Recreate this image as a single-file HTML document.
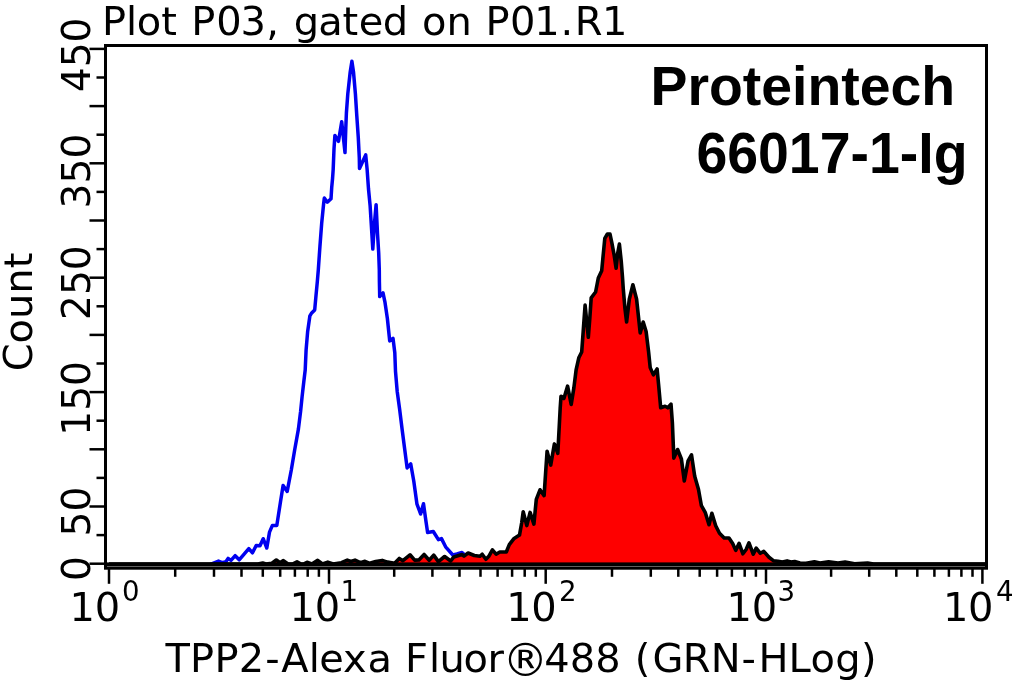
<!DOCTYPE html>
<html lang="en"><head><meta charset="utf-8"><title>Plot P03, gated on P01.R1</title>
<style>html,body{margin:0;padding:0;background:#fff;overflow:hidden}svg{display:block}.v{font-family:"DejaVu Sans","Liberation Sans",sans-serif;fill:#000}.a{font-family:"Liberation Sans",sans-serif;font-weight:bold;fill:#000}</style></head><body>
<svg width="1015" height="683" viewBox="0 0 1015 683">
<rect x="0" y="0" width="1015" height="683" fill="#fff"/>
<polyline points="211.0,564.2 214.8,562.6 218.5,561.1 222.2,562.6 225.9,561.8 228.1,558.4 231.0,560.4 235.2,555.7 239.2,559.8 248.8,548.6 252.5,552.8 256.2,545.5 260.0,545.8 263.2,538.7 266.8,548.0 269.5,532.1 272.4,525.4 276.8,525.4 280.5,501.8 283.1,485.5 287.2,491.4 291.3,470.0 294.7,449.8 298.4,429.1 300.6,411.4 302.1,396.6 303.8,381.8 305.2,370.0 306.1,349.8 307.6,332.1 309.9,315.8 311.7,312.9 314.7,309.9 315.9,296.6 317.3,281.8 318.3,270.0 319.9,246.8 321.7,223.2 323.6,204.0 324.3,198.1 327.3,202.2 331.0,198.8 331.7,187.7 332.6,178.0 333.2,169.1 334.0,149.0 334.9,135.4 338.5,141.3 341.7,121.8 345.0,152.6 345.8,128.0 346.4,113.0 347.8,93.9 350.2,72.0 351.9,61.2 353.5,72.0 355.4,93.9 356.8,115.8 358.3,137.8 359.3,158.0 359.5,168.5 365.7,154.9 367.1,169.1 368.5,189.0 370.1,205.5 371.3,224.7 372.8,249.1 374.6,221.7 376.1,204.7 377.5,233.5 378.7,252.8 379.3,270.0 379.4,281.8 379.7,296.6 383.0,292.9 384.9,301.8 387.4,318.8 389.7,340.9 393.0,338.3 394.8,352.8 395.5,371.3 397.2,391.4 399.6,409.1 402.2,430.0 404.6,448.4 407.1,467.9 410.7,463.8 413.8,481.2 416.9,503.8 420.6,514.0 423.5,503.8 426.1,522.2 427.6,532.5 433.3,531.5 438.4,539.7 441.5,538.6 445.6,546.8 452.8,555.0 456.9,554.0 462.0,552.5 466.0,556.0 470.0,562.0 475.0,564.0" fill="none" stroke="#0000f0" stroke-width="3.5" stroke-linejoin="round" stroke-linecap="round"/>
<polygon points="109.0,564.0 258.0,564.0 262.7,563.0 266.0,564.0 272.0,563.3 276.3,560.0 280.0,562.8 283.4,560.6 288.0,564.0 293.0,563.8 297.0,561.8 301.0,564.0 304.0,563.8 307.0,562.3 311.8,564.0 317.7,560.4 322.5,564.0 327.8,562.1 333.1,564.0 341.4,562.7 347.3,560.1 350.8,561.5 355.0,560.1 360.3,562.7 365.0,561.3 369.8,563.3 375.7,561.5 382.2,560.4 387.5,562.1 394.6,563.3 399.3,558.4 402.9,560.7 410.0,554.8 414.7,560.1 418.9,560.0 424.1,554.5 429.2,560.2 433.7,555.1 438.4,561.6 444.6,556.5 450.7,561.0 453.8,556.9 462.0,554.5 464.0,556.1 468.1,553.0 474.3,555.5 480.0,556.3 482.2,554.2 485.9,559.3 488.8,556.3 492.4,549.8 496.1,554.2 499.8,552.0 506.3,552.0 509.3,544.6 513.7,538.8 519.5,535.1 521.7,522.7 523.2,511.7 526.8,525.6 530.1,512.4 533.9,524.1 536.3,499.3 540.0,489.8 544.1,495.6 545.8,470.0 547.1,451.2 550.7,465.1 554.4,443.9 557.8,453.4 559.2,427.1 560.2,408.0 561.0,396.3 563.9,398.5 567.6,386.1 571.2,404.4 573.9,387.6 576.1,370.0 578.8,357.8 581.7,352.0 583.2,331.5 585.1,305.1 588.3,337.3 589.8,318.3 591.2,297.8 595.6,292.0 598.3,278.0 601.7,270.8 603.3,253.8 604.8,238.4 607.4,234.0 610.0,234.0 612.0,243.6 614.1,254.8 616.1,268.2 617.6,253.8 619.4,244.1 621.2,261.0 622.5,277.4 623.2,288.0 624.9,308.0 626.6,322.0 629.3,299.3 632.9,284.8 636.6,299.3 640.2,332.9 643.2,322.0 646.1,331.5 648.6,352.0 650.2,367.6 653.4,374.9 657.1,369.0 658.5,383.7 660.7,407.8 665.1,406.3 667.8,407.8 671.0,404.1 672.4,423.2 673.3,445.0 673.8,458.1 677.6,449.5 681.4,459.0 684.3,480.9 688.1,460.9 691.5,454.8 694.7,476.2 698.5,489.5 701.4,505.7 705.2,512.3 709.0,524.7 711.9,513.3 715.7,525.7 719.5,533.3 724.2,538.0 729.0,538.0 732.8,543.8 735.7,550.4 739.1,543.4 742.9,553.8 746.1,549.5 749.0,542.8 753.2,554.2 756.2,548.1 760.4,553.3 763.8,551.4 769.0,557.3 773.7,560.9 778.0,561.2 782.3,562.0 787.1,560.9 791.0,562.0 794.7,561.6 800.0,563.0 806.0,563.2 814.4,561.8 820.0,563.0 828.6,561.8 838.0,563.0 845.1,562.0 854.6,563.7 867.6,563.0 873.5,564.0 985.0,564.0" fill="#fe0000" stroke="none"/>
<polyline points="109.0,564.0 258.0,564.0 262.7,563.0 266.0,564.0 272.0,563.3 276.3,560.0 280.0,562.8 283.4,560.6 288.0,564.0 293.0,563.8 297.0,561.8 301.0,564.0 304.0,563.8 307.0,562.3 311.8,564.0 317.7,560.4 322.5,564.0 327.8,562.1 333.1,564.0 341.4,562.7 347.3,560.1 350.8,561.5 355.0,560.1 360.3,562.7 365.0,561.3 369.8,563.3 375.7,561.5 382.2,560.4 387.5,562.1 394.6,563.3 399.3,558.4 402.9,560.7 410.0,554.8 414.7,560.1 418.9,560.0 424.1,554.5 429.2,560.2 433.7,555.1 438.4,561.6 444.6,556.5 450.7,561.0 453.8,556.9 462.0,554.5 464.0,556.1 468.1,553.0 474.3,555.5 480.0,556.3 482.2,554.2 485.9,559.3 488.8,556.3 492.4,549.8 496.1,554.2 499.8,552.0 506.3,552.0 509.3,544.6 513.7,538.8 519.5,535.1 521.7,522.7 523.2,511.7 526.8,525.6 530.1,512.4 533.9,524.1 536.3,499.3 540.0,489.8 544.1,495.6 545.8,470.0 547.1,451.2 550.7,465.1 554.4,443.9 557.8,453.4 559.2,427.1 560.2,408.0 561.0,396.3 563.9,398.5 567.6,386.1 571.2,404.4 573.9,387.6 576.1,370.0 578.8,357.8 581.7,352.0 583.2,331.5 585.1,305.1 588.3,337.3 589.8,318.3 591.2,297.8 595.6,292.0 598.3,278.0 601.7,270.8 603.3,253.8 604.8,238.4 607.4,234.0 610.0,234.0 612.0,243.6 614.1,254.8 616.1,268.2 617.6,253.8 619.4,244.1 621.2,261.0 622.5,277.4 623.2,288.0 624.9,308.0 626.6,322.0 629.3,299.3 632.9,284.8 636.6,299.3 640.2,332.9 643.2,322.0 646.1,331.5 648.6,352.0 650.2,367.6 653.4,374.9 657.1,369.0 658.5,383.7 660.7,407.8 665.1,406.3 667.8,407.8 671.0,404.1 672.4,423.2 673.3,445.0 673.8,458.1 677.6,449.5 681.4,459.0 684.3,480.9 688.1,460.9 691.5,454.8 694.7,476.2 698.5,489.5 701.4,505.7 705.2,512.3 709.0,524.7 711.9,513.3 715.7,525.7 719.5,533.3 724.2,538.0 729.0,538.0 732.8,543.8 735.7,550.4 739.1,543.4 742.9,553.8 746.1,549.5 749.0,542.8 753.2,554.2 756.2,548.1 760.4,553.3 763.8,551.4 769.0,557.3 773.7,560.9 778.0,561.2 782.3,562.0 787.1,560.9 791.0,562.0 794.7,561.6 800.0,563.0 806.0,563.2 814.4,561.8 820.0,563.0 828.6,561.8 838.0,563.0 845.1,562.0 854.6,563.7 867.6,563.0 873.5,564.0 985.0,564.0" fill="none" stroke="#000" stroke-width="3.6" stroke-linejoin="round" stroke-linecap="butt"/>
<rect x="105.5" y="45.5" width="881" height="522.7" fill="none" stroke="#000" stroke-width="3"/>
<rect x="107" y="562.4" width="878" height="4.6" fill="#000"/>
<line x1="107" y1="566.5" x2="985" y2="566.5" stroke="#8a8a8a" stroke-width="0.7"/>
<line x1="89.5" y1="563.7" x2="105" y2="563.7" stroke="#000" stroke-width="2.5"/>
<line x1="96.5" y1="535.1" x2="105" y2="535.1" stroke="#000" stroke-width="2.5"/>
<line x1="89.5" y1="506.5" x2="105" y2="506.5" stroke="#000" stroke-width="2.5"/>
<line x1="96.5" y1="477.9" x2="105" y2="477.9" stroke="#000" stroke-width="2.5"/>
<line x1="89.5" y1="449.3" x2="105" y2="449.3" stroke="#000" stroke-width="2.5"/>
<line x1="96.5" y1="420.7" x2="105" y2="420.7" stroke="#000" stroke-width="2.5"/>
<line x1="89.5" y1="392.1" x2="105" y2="392.1" stroke="#000" stroke-width="2.5"/>
<line x1="96.5" y1="363.5" x2="105" y2="363.5" stroke="#000" stroke-width="2.5"/>
<line x1="89.5" y1="334.9" x2="105" y2="334.9" stroke="#000" stroke-width="2.5"/>
<line x1="96.5" y1="306.3" x2="105" y2="306.3" stroke="#000" stroke-width="2.5"/>
<line x1="89.5" y1="277.7" x2="105" y2="277.7" stroke="#000" stroke-width="2.5"/>
<line x1="96.5" y1="249.1" x2="105" y2="249.1" stroke="#000" stroke-width="2.5"/>
<line x1="89.5" y1="220.5" x2="105" y2="220.5" stroke="#000" stroke-width="2.5"/>
<line x1="96.5" y1="191.9" x2="105" y2="191.9" stroke="#000" stroke-width="2.5"/>
<line x1="89.5" y1="163.3" x2="105" y2="163.3" stroke="#000" stroke-width="2.5"/>
<line x1="96.5" y1="134.7" x2="105" y2="134.7" stroke="#000" stroke-width="2.5"/>
<line x1="89.5" y1="106.1" x2="105" y2="106.1" stroke="#000" stroke-width="2.5"/>
<line x1="96.5" y1="77.5" x2="105" y2="77.5" stroke="#000" stroke-width="2.5"/>
<line x1="89.5" y1="48.9" x2="105" y2="48.9" stroke="#000" stroke-width="2.5"/>
<line x1="109.0" y1="568" x2="109.0" y2="583.8" stroke="#000" stroke-width="2.5"/>
<line x1="175.2" y1="568" x2="175.2" y2="576.8" stroke="#000" stroke-width="2.5"/>
<line x1="214.0" y1="568" x2="214.0" y2="576.8" stroke="#000" stroke-width="2.5"/>
<line x1="241.5" y1="568" x2="241.5" y2="576.8" stroke="#000" stroke-width="2.5"/>
<line x1="262.8" y1="568" x2="262.8" y2="576.8" stroke="#000" stroke-width="2.5"/>
<line x1="280.2" y1="568" x2="280.2" y2="576.8" stroke="#000" stroke-width="2.5"/>
<line x1="294.9" y1="568" x2="294.9" y2="576.8" stroke="#000" stroke-width="2.5"/>
<line x1="307.7" y1="568" x2="307.7" y2="576.8" stroke="#000" stroke-width="2.5"/>
<line x1="318.9" y1="568" x2="318.9" y2="576.8" stroke="#000" stroke-width="2.5"/>
<line x1="329.0" y1="568" x2="329.0" y2="583.8" stroke="#000" stroke-width="2.5"/>
<line x1="394.2" y1="568" x2="394.2" y2="576.8" stroke="#000" stroke-width="2.5"/>
<line x1="432.4" y1="568" x2="432.4" y2="576.8" stroke="#000" stroke-width="2.5"/>
<line x1="459.5" y1="568" x2="459.5" y2="576.8" stroke="#000" stroke-width="2.5"/>
<line x1="480.5" y1="568" x2="480.5" y2="576.8" stroke="#000" stroke-width="2.5"/>
<line x1="497.6" y1="568" x2="497.6" y2="576.8" stroke="#000" stroke-width="2.5"/>
<line x1="512.1" y1="568" x2="512.1" y2="576.8" stroke="#000" stroke-width="2.5"/>
<line x1="524.7" y1="568" x2="524.7" y2="576.8" stroke="#000" stroke-width="2.5"/>
<line x1="535.8" y1="568" x2="535.8" y2="576.8" stroke="#000" stroke-width="2.5"/>
<line x1="545.7" y1="568" x2="545.7" y2="583.8" stroke="#000" stroke-width="2.5"/>
<line x1="612.0" y1="568" x2="612.0" y2="576.8" stroke="#000" stroke-width="2.5"/>
<line x1="650.8" y1="568" x2="650.8" y2="576.8" stroke="#000" stroke-width="2.5"/>
<line x1="678.3" y1="568" x2="678.3" y2="576.8" stroke="#000" stroke-width="2.5"/>
<line x1="699.7" y1="568" x2="699.7" y2="576.8" stroke="#000" stroke-width="2.5"/>
<line x1="717.1" y1="568" x2="717.1" y2="576.8" stroke="#000" stroke-width="2.5"/>
<line x1="731.9" y1="568" x2="731.9" y2="576.8" stroke="#000" stroke-width="2.5"/>
<line x1="744.7" y1="568" x2="744.7" y2="576.8" stroke="#000" stroke-width="2.5"/>
<line x1="755.9" y1="568" x2="755.9" y2="576.8" stroke="#000" stroke-width="2.5"/>
<line x1="766.0" y1="568" x2="766.0" y2="583.8" stroke="#000" stroke-width="2.5"/>
<line x1="831.1" y1="568" x2="831.1" y2="576.8" stroke="#000" stroke-width="2.5"/>
<line x1="869.2" y1="568" x2="869.2" y2="576.8" stroke="#000" stroke-width="2.5"/>
<line x1="896.3" y1="568" x2="896.3" y2="576.8" stroke="#000" stroke-width="2.5"/>
<line x1="917.3" y1="568" x2="917.3" y2="576.8" stroke="#000" stroke-width="2.5"/>
<line x1="934.4" y1="568" x2="934.4" y2="576.8" stroke="#000" stroke-width="2.5"/>
<line x1="948.9" y1="568" x2="948.9" y2="576.8" stroke="#000" stroke-width="2.5"/>
<line x1="961.4" y1="568" x2="961.4" y2="576.8" stroke="#000" stroke-width="2.5"/>
<line x1="972.5" y1="568" x2="972.5" y2="576.8" stroke="#000" stroke-width="2.5"/>
<line x1="982.4" y1="568" x2="982.4" y2="583.8" stroke="#000" stroke-width="2.5"/>
<text class="v" transform="translate(0,34.7) scale(1.03,1)" x="99.0 122.3 132.8 156.6 176.7 185.8 209.9 233.5 258.4 275.6 285.3 309.1 332.5 348.2 371.7 401.2 409.7 433.4 462.8 471.3 495.2 518.7 544.2 558.0 584.5" y="0" font-size="38.8">Plot P03, gated on P01.R1</text>
<text class="v" transform="translate(31.9,371.3) rotate(-90) scale(1.03,1)" font-size="38.8">Count</text>
<text class="v" transform="translate(89.5,568.5) rotate(-90) scale(1.01,1)" font-size="38.8" text-anchor="middle">0</text>
<text class="v" transform="translate(89.5,511.5) rotate(-90) scale(1.01,1)" font-size="38.8" text-anchor="middle">50</text>
<text class="v" transform="translate(89.5,398.4) rotate(-90) scale(1.01,1)" font-size="38.8" text-anchor="middle">150</text>
<text class="v" transform="translate(89.5,282.6) rotate(-90) scale(1.01,1)" font-size="38.8" text-anchor="middle">250</text>
<text class="v" transform="translate(89.5,171.0) rotate(-90) scale(1.01,1)" font-size="38.8" text-anchor="middle">350</text>
<text class="v" transform="translate(89.5,54.9) rotate(-90) scale(1.01,1)" font-size="38.8" text-anchor="middle">450</text>
<text class="v" transform="translate(0,621.1) scale(1.03,1)" x="67.6 91.9" y="0" font-size="38.8">10</text>
<text class="v" x="122.0" y="601.1" font-size="27.6">0</text>
<text class="v" transform="translate(0,621.1) scale(1.03,1)" x="281.2 305.5" y="0" font-size="38.8">10</text>
<text class="v" x="340.4" y="601.1" font-size="27.6">1</text>
<text class="v" transform="translate(0,621.1) scale(1.03,1)" x="491.5 515.9" y="0" font-size="38.8">10</text>
<text class="v" x="559.1" y="601.1" font-size="27.6">2</text>
<text class="v" transform="translate(0,621.1) scale(1.03,1)" x="705.4 729.8" y="0" font-size="38.8">10</text>
<text class="v" x="777.6" y="601.1" font-size="27.6">3</text>
<text class="v" transform="translate(0,621.1) scale(1.03,1)" x="915.5 939.9" y="0" font-size="38.8">10</text>
<text class="v" x="995.9" y="601.1" font-size="27.6">4</text>
<text class="v" transform="translate(0,672.0) scale(1.03,1)" x="160.6 184.6 208.2 231.9 257.5 273.0 299.7 309.9 332.9 356.8 385.4 393.2 416.6 426.7 450.1 473.3" y="0" font-size="38.8">TPP2-Alexa Fluor</text>
<text class="v" x="502.5" y="676.2" font-size="45.7">®</text>
<text class="v" transform="translate(0,672.0) scale(1.03,1)" x="528.3 553.2 578.0 607.5 616.2 633.5 662.9 690.1 719.9 736.3 765.5 787.0 810.9 836.0" y="0" font-size="38.8">488 (GRN-HLog)</text>
<text class="a" transform="translate(650.5,104.9) scale(1.007,1)" font-size="55">Proteintech</text>
<text class="a" transform="translate(696.4,173.4) scale(1.008,1.03)" font-size="55">66017-1-Ig</text>
</svg></body></html>
